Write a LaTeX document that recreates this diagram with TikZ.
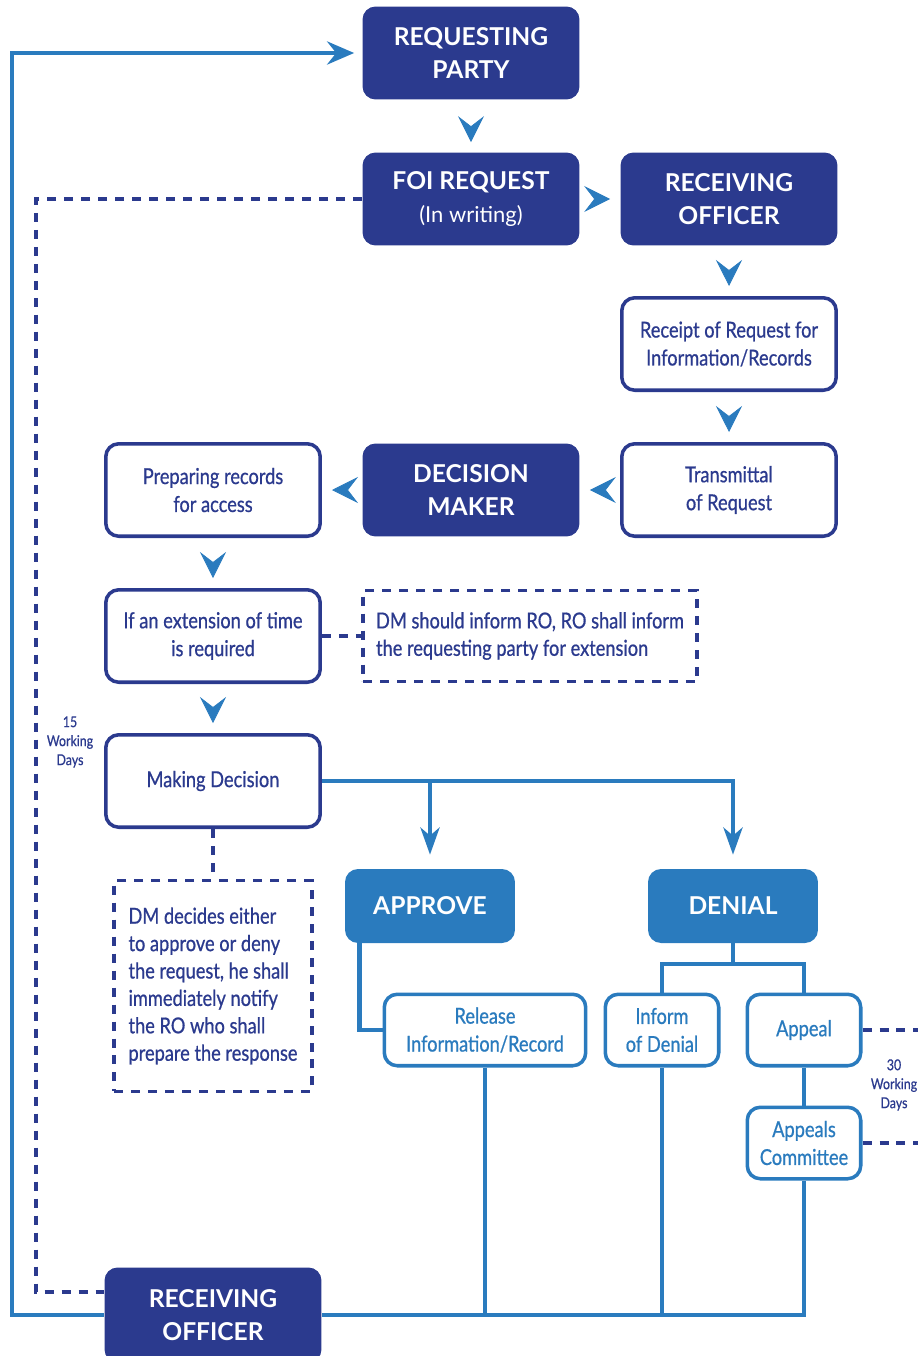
\documentclass[tikz,border=0pt]{standalone}
\usepackage{fontspec}
\setmainfont{Lato}
\newfontfamily\condfont[FakeStretch=0.83, FakeBold=0.7]{Lato}
\usetikzlibrary{arrows.meta,calc,backgrounds}

\definecolor{navy}{HTML}{2B3A8E}
\definecolor{skyblue}{HTML}{2A7BBE}

\tikzset{
  darkbox/.style={rectangle, rounded corners=2.6mm, fill=navy, text=white,
    minimum width=43.4mm, minimum height=18.6mm, align=center,
    font=\bfseries\fontsize{14}{18.7}\selectfont},
  whitebox/.style={rectangle, rounded corners=2.6mm, draw=navy, line width=2pt,
    fill=white, text=navy, minimum width=42.9mm, minimum height=18.5mm,
    align=center, font=\condfont\fontsize{12.5}{15.9}\selectfont},
  bluebox/.style={rectangle, rounded corners=2.6mm, fill=skyblue, text=white,
    minimum width=34mm, minimum height=14.8mm,
    font=\bfseries\fontsize{14}{18}\selectfont},
  lightbox/.style={rectangle, rounded corners=2.6mm, draw=skyblue, line width=2pt,
    fill=white, text=skyblue, minimum width=22.7mm, minimum height=14.3mm,
    align=center, font=\condfont\fontsize{12.5}{15.9}\selectfont},
  notebox/.style={rectangle, draw=navy, line width=2.2pt, fill=white,
    dash pattern=on 1.8mm off 1.6mm, text=navy, align=left,
    font=\condfont\fontsize{12.5}{15.6}\selectfont},
  chevron/.style={draw=white, line width=0.4pt, shorten <=0.4mm, shorten >=2mm,
    -{Stealth[length=5.2mm, width=5.2mm, inset=2mm, color=skyblue]}},
  flow/.style={draw=skyblue, line width=2.6pt},
  flowarrow/.style={flow, shorten >=2.8mm,
    -{Stealth[length=5.4mm, width=3.8mm, inset=1.6mm]}},
  dashline/.style={draw=navy, line width=2.2pt, dash pattern=on 1.8mm off 1.6mm},
  daysnote/.style={text=navy, align=center,
    font=\condfont\fontsize{8.5}{10.8}\selectfont},
}

\begin{document}
\begin{tikzpicture}[x=0.02cm, y=-0.02cm]
    \useasboundingbox (0,0) rectangle (918,1356);

    % Top row
    \node[darkbox] (rp) at (471,53) {REQUESTING\\PARTY};
    \node[darkbox] (foi) at (471,199) {FOI REQUEST\\{\mdseries\fontsize{12.5}{15}\selectfont (In writing)}};
    \node[darkbox] (rotop) at (729,199) {RECEIVING\\OFFICER};
    \node[whitebox] (receipt) at (729,344) {Receipt of Request for\\Information/Records};

    % Decision row
    \node[whitebox] (trans) at (729,490) {Transmittal\\of Request};
    \node[darkbox] (dm) at (471,490) {DECISION\\MAKER};
    \node[whitebox] (prep) at (213,490) {Preparing records\\for access};
    \node[whitebox] (ext) at (213,636) {If an extension of time\\is required};
    \node[notebox, minimum width=66.8mm, minimum height=18.2mm] (note1) at (530,636)
        {DM should inform RO, RO shall inform\\the requesting party for extension};
    \node[whitebox] (md) at (213,781) {Making Decision};
    \node[notebox, minimum width=39.6mm, minimum height=42.2mm] (dmnote) at (213,986)
        {DM decides either\\to approve or deny\\the request, he shall\\immediately notify\\the RO who shall\\prepare the response};

    % Outcomes
    \node[bluebox] (approve) at (430,906) {APPROVE};
    \node[bluebox] (denial) at (733,906) {DENIAL};
    \node[lightbox, minimum width=40.3mm] (release) at (485,1030) {Release\\Information/Record};
    \node[lightbox] (inform) at (662,1030) {Inform\\of Denial};
    \node[lightbox] (appeal) at (804,1030) {Appeal};
    \node[lightbox] (committee) at (804,1143) {Appeals\\Committee};
    \node[darkbox, minimum height=19mm] (robot) at (213,1315) {RECEIVING\\OFFICER};

    % Time notes
    \node[daysnote] (days15) at (70,742) {15\\Working\\Days};
    \node[daysnote] (days30) at (894,1085) {30\\Working\\Days};

    \coordinate (lft) at (12,0);
    \coordinate (dl) at (36,0);
    \coordinate (split) at (733,964);
    \coordinate (rodash) at ($(robot.west)+(0,-23)$);

    % Chevrons between boxes
    \draw[chevron] (rp) -- (foi);
    \draw[chevron] (foi) -- (rotop);
    \draw[chevron] (rotop) -- (receipt);
    \draw[chevron] (receipt) -- (trans);
    \draw[chevron] (trans) -- (dm);
    \draw[chevron] (dm) -- (prep);
    \draw[chevron] (prep) -- (ext);
    \draw[chevron] (ext) -- (md);

    \begin{scope}[on background layer]
        % Branches from the decision
        \draw[flowarrow] (md.east) -| (denial.north);
        \draw[flowarrow] (md.east -| approve.north) -- (approve.north);
        \draw[flow] ([xshift=3mm]approve.south west) |- (release.west);
        \draw[flow] (denial.south) -- (split);
        \draw[flow] (inform.north) |- (split) -| (appeal.north);
        \draw[flow] (appeal) -- (committee);

        % Back to the receiving officer and the requesting party
        \draw[flow] (robot.east) -| (committee.south);
        \draw[flow] (release.south) -- (release.south |- robot.east);
        \draw[flow] (inform.south) -- (inform.south |- robot.east);
        \draw[flow, shorten >=1.6mm, -{Stealth[length=5.4mm, width=4.6mm, inset=1.8mm]}]
            (robot.west) -- (robot.west -| lft) |- (rp.west);

        % Dashed links
        \draw[dashline] (foi.west) -| (rodash -| dl) -- (rodash);
        \draw[dashline] (ext) -- (note1);
        \draw[dashline] (md) -- (dmnote);
        \draw[dashline] (appeal.east) -- ++(56,0);
        \draw[dashline] (committee.east) -- ++(56,0);
    \end{scope}
\end{tikzpicture}
\end{document}
